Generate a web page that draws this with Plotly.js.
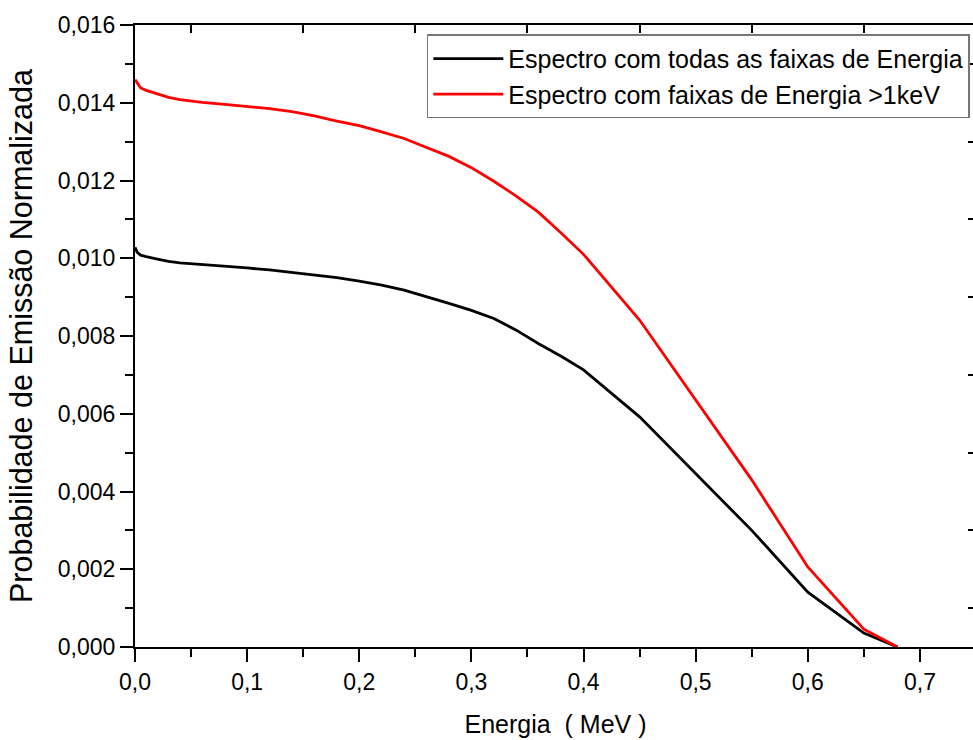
<!DOCTYPE html>
<html>
<head>
<meta charset="utf-8">
<script src="https://cdn.plot.ly/plotly-3.0.1.min.js"></script>
<style>
html,body{margin:0;padding:0;overflow:hidden;background:#fff;}
#chart{width:980px;height:740px;}
</style>
</head>
<body>
<div id="chart"></div>
<script>
// Energy (MeV)
const energia = [0, 0.002, 0.005, 0.01, 0.02, 0.03, 0.04, 0.06, 0.08, 0.1, 0.12, 0.14, 0.16, 0.18, 0.2, 0.22, 0.24, 0.26, 0.28, 0.3, 0.32, 0.34, 0.36, 0.38, 0.4, 0.45, 0.5, 0.55, 0.6, 0.65, 0.68];
// Espectro com todas as faixas de Energia
const espectroTodas = [0.01028, 0.01015, 0.01008, 0.01004, 0.00998, 0.00992, 0.00988, 0.00984, 0.00980, 0.00975, 0.00970, 0.00963, 0.00956, 0.00950, 0.00941, 0.00931, 0.00918, 0.00902, 0.00884, 0.00866, 0.00845, 0.00815, 0.00780, 0.00748, 0.00713, 0.00592, 0.00447, 0.00300, 0.00141, 0.00036, 0.0];
// Espectro com faixas de Energia >1keV
const espectro1keV = [0.01460, 0.01450, 0.01438, 0.01432, 0.01422, 0.01414, 0.01408, 0.01401, 0.01396, 0.01391, 0.01385, 0.01377, 0.01366, 0.01353, 0.01341, 0.01325, 0.01308, 0.01285, 0.01262, 0.01233, 0.01198, 0.01160, 0.01118, 0.01065, 0.01010, 0.00841, 0.00635, 0.00430, 0.00206, 0.00046, 0.0];

const nomes = ["Espectro com todas as faixas de Energia", "Espectro com faixas de Energia >1keV"];
const topMinor = [0.05, 0.15, 0.25, 0.35, 0.45, 0.55, 0.65, 0.75];
const rightMinor = [0.001, 0.003, 0.005, 0.007, 0.009, 0.011, 0.013, 0.015];

const font = "Arial, 'Liberation Sans', sans-serif";

const traces = [
  {x: energia, y: espectroTodas, name: nomes[0], mode: 'lines', line: {color: '#000000', width: 2.8}},
  {x: energia, y: espectro1keV, name: nomes[1], mode: 'lines', line: {color: '#ff0000', width: 2.8}},
  {x: [0.75], y: [0], xaxis: 'x2', yaxis: 'y2', mode: 'markers', marker: {opacity: 0}, showlegend: false, hoverinfo: 'skip'}
];

const layout = {
  width: 980, height: 740,
  margin: {l: 135, r: 4, t: 25, b: 93},
  paper_bgcolor: '#ffffff', plot_bgcolor: '#ffffff',
  separators: ',.',
  font: {family: font, color: '#000', size: 23},
  showlegend: true,
  legend: {
    x: 0.347, y: 0.985, xanchor: 'left', yanchor: 'top',
    bgcolor: '#ffffff', bordercolor: '#777', borderwidth: 1.5,
    font: {family: font, size: 25, color: '#000'},
    itemwidth: 70,
    tracegroupgap: 0
  },
  xaxis: {
    range: [0, 0.75], dtick: 0.1, tick0: 0, tickformat: '.1f',
    showgrid: false, zeroline: false,
    showline: true, linecolor: '#000', linewidth: 2,
    ticks: 'outside', ticklen: 13, tickwidth: 2, tickcolor: '#000',
    minor: {dtick: 0.05, tick0: 0, ticks: 'outside', ticklen: 8, tickwidth: 2, tickcolor: '#000'},
    tickfont: {size: 23, family: font},
    title: {text: 'Energia  ( MeV )', font: {size: 25, family: font}, standoff: 22}
  },
  yaxis: {
    range: [0, 0.016], dtick: 0.002, tick0: 0, tickformat: '.3f',
    showgrid: false, zeroline: false,
    showline: true, linecolor: '#000', linewidth: 2,
    ticks: 'outside', ticklen: 13, tickwidth: 2, tickcolor: '#000',
    minor: {dtick: 0.001, tick0: 0, ticks: 'outside', ticklen: 8, tickwidth: 2, tickcolor: '#000'},
    tickfont: {size: 23, family: font},
    title: {text: 'Probabilidade de Emissão Normalizada', font: {size: 30.5, family: font}, standoff: 16}
  },
  xaxis2: {
    overlaying: 'x', side: 'top', range: [0, 0.75],
    tickvals: topMinor, showticklabels: false,
    ticks: 'inside', ticklen: 8, tickwidth: 2, tickcolor: '#000',
    showline: true, linecolor: '#000', linewidth: 2,
    showgrid: false, zeroline: false
  },
  yaxis2: {
    overlaying: 'y', side: 'right', range: [0, 0.016],
    tickvals: rightMinor, showticklabels: false,
    ticks: 'inside', ticklen: 8, tickwidth: 2, tickcolor: '#000',
    showline: true, linecolor: '#000', linewidth: 2,
    showgrid: false, zeroline: false
  }
};

Plotly.newPlot('chart', traces, layout, {displayModeBar: false, staticPlot: true});
</script>
</body>
</html>
